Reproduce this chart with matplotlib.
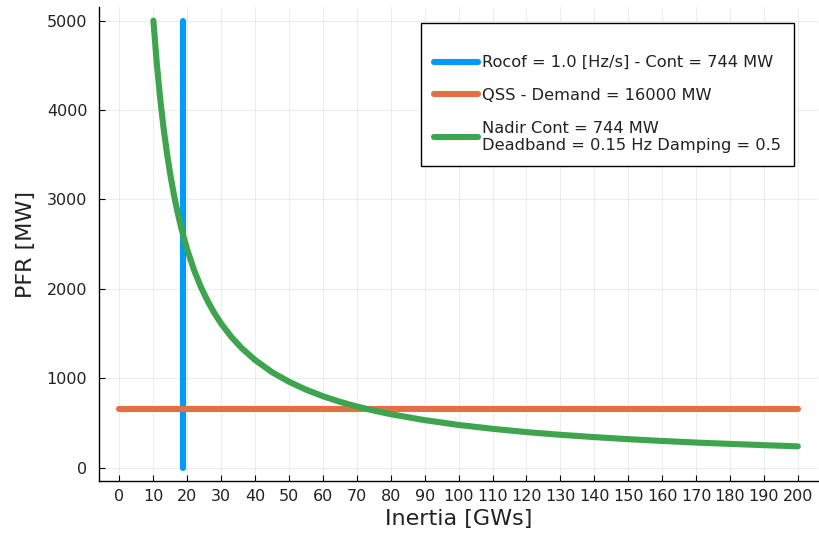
import matplotlib
matplotlib.use("Agg")
import matplotlib.pyplot as plt
import numpy as np

# Rocof limit: vertical line at the minimum inertia
rocof_inertia = 18.6
rocof_pfr = [0, 5000]

# QSS limit: horizontal line
qss_inertia = [0, 200]
qss_pfr = [658, 658]

# Nadir limit curve
nadir_inertia = [10, 11, 12, 13, 14, 15, 16, 17, 18, 19, 20, 22, 24, 26, 28,
                 30, 33, 36, 40, 45, 50, 55, 60, 65, 70, 75, 80, 90, 100,
                 110, 120, 130, 140, 150, 160, 170, 180, 190, 200]
nadir_pfr = [5000, 4524, 4130, 3800, 3519, 3276, 3065, 2879, 2714, 2568, 2436,
             2209, 2021, 1863, 1727, 1610, 1462, 1338, 1203, 1067, 960, 872,
             798, 736, 683, 638, 597, 531, 477, 434, 397, 367, 341, 318, 298,
             280, 265, 251, 238]

labels = ["Rocof = 1.0 [Hz/s] - Cont = 744 MW",
          "QSS - Demand = 16000 MW",
          "Nadir Cont = 744 MW\nDeadband = 0.15 Hz Damping = 0.5"]
colors = ["#009AFA", "#E36F47", "#3EA44E"]

plt.rcParams['font.family'] = ['DejaVu Sans']

fig = plt.figure(figsize=(8.19, 5.39), dpi=100)
ax = fig.add_axes([0.121, 0.1076, 0.878, 0.879])

lw = 4.4
ax.plot([rocof_inertia, rocof_inertia], rocof_pfr, color=colors[0], lw=lw,
        solid_capstyle="round", label=labels[0])
ax.plot(qss_inertia, qss_pfr, color=colors[1], lw=lw,
        solid_capstyle="round", label=labels[1])
ax.plot(nadir_inertia, nadir_pfr, color=colors[2], lw=lw,
        solid_capstyle="round", solid_joinstyle="round", label=labels[2])

ax.set_xlim(-6, 206)
ax.set_ylim(-150, 5150)
ax.set_xticks(np.arange(0, 201, 10))
ax.set_yticks(np.arange(0, 5001, 1000))
ax.tick_params(direction="in", length=4, labelsize=11.5, colors="black",
               labelcolor="#222222")
ax.tick_params(axis="x", pad=5.5)
ax.tick_params(axis="y", pad=8.5)
ax.grid(True, color="black", alpha=0.07, lw=0.8)

for s in ["top", "right"]:
    ax.spines[s].set_visible(False)
for s in ["left", "bottom"]:
    ax.spines[s].set_linewidth(1.0)

ax.set_xlabel("Inertia [GWs]", fontsize=16, color="#222222")
ax.set_ylabel("PFR [MW]", fontsize=16, color="#222222", labelpad=8)

leg = ax.legend(loc="upper right", bbox_to_anchor=(0.967, 0.966),
                borderaxespad=0, fontsize=11.7, title=" ", title_fontsize=1,
                handlelength=2.7, handletextpad=0.3, fancybox=False,
                edgecolor="black", framealpha=1.0, borderpad=0.8,
                labelspacing=1.1)
leg.get_frame().set_linewidth(1.0)
for t in leg.get_texts():
    t.set_color("#222222")

fig.savefig("out.png", dpi=100)
